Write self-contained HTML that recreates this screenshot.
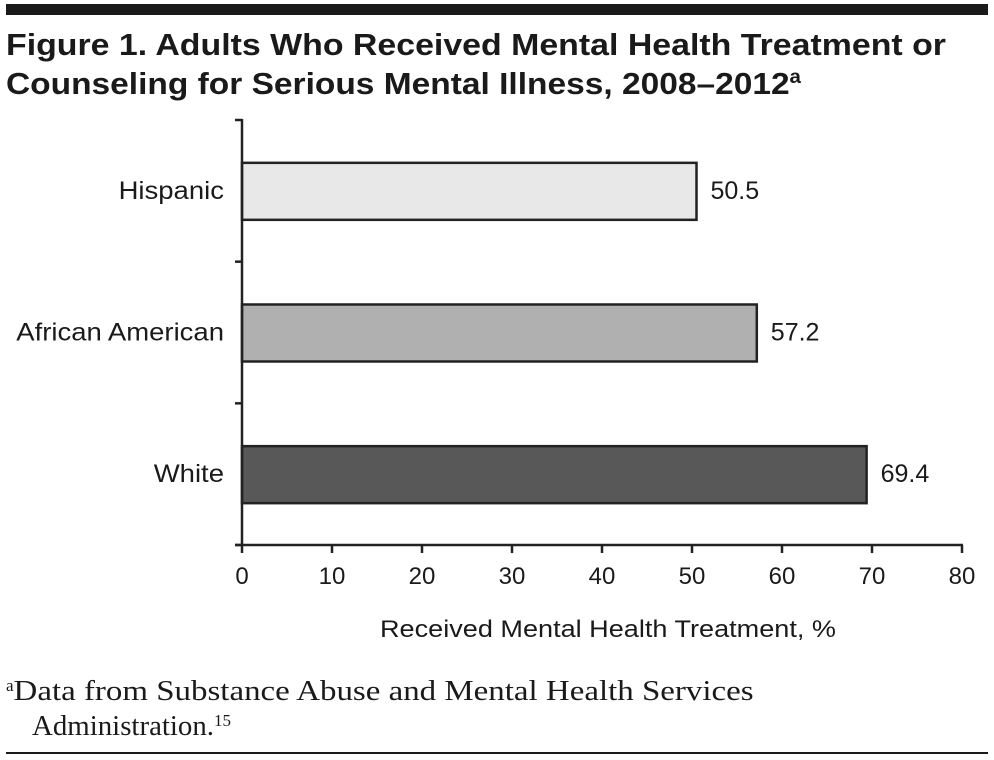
<!DOCTYPE html>
<html><head><meta charset="utf-8"><style>
body{margin:0;background:#fff;width:994px;height:760px;overflow:hidden}
svg{display:block}
</style></head><body>
<svg width="994" height="760" id="svg" font-family="'Liberation Sans', sans-serif">
<rect x="6" y="4" width="982" height="11" fill="#1a1a1a"/>
<text x="6" y="55" font-size="31" font-weight="bold" fill="#1a1a1a" textLength="940" lengthAdjust="spacingAndGlyphs">Figure 1. Adults Who Received Mental Health Treatment or</text>
<text x="6" y="94" font-size="31" font-weight="bold" fill="#1a1a1a" textLength="795" lengthAdjust="spacingAndGlyphs">Counseling for Serious Mental Illness, 2008–2012<tspan font-size="19" dy="-11">a</tspan></text>
<g id="chart"></g>
<text x="380" y="637" font-size="24" fill="#1a1a1a" textLength="456" lengthAdjust="spacingAndGlyphs">Received Mental Health Treatment, %</text>
<text x="6" y="700" font-family="'Liberation Serif', serif" font-size="28" fill="#1a1a1a"><tspan font-size="17" dy="-9">a</tspan><tspan dy="9" textLength="740" lengthAdjust="spacingAndGlyphs">Data from Substance Abuse and Mental Health Services</tspan></text>
<text x="32" y="735" font-family="'Liberation Serif', serif" font-size="28" fill="#1a1a1a"><tspan textLength="182" lengthAdjust="spacingAndGlyphs">Administration.</tspan><tspan font-size="17" dy="-9">15</tspan></text>
<rect x="6" y="752" width="982" height="2" fill="#1a1a1a"/>
</svg>
<script>
const categories = ["Hispanic", "African American", "White"];
const values = [50.5, 57.2, 69.4];
const labels = ["50.5", "57.2", "69.4"];
const fills = ["#e8e8e8", "#b0b0b0", "#585858"];
const xTicks = [0, 10, 20, 30, 40, 50, 60, 70, 80];

const NS = "http://www.w3.org/2000/svg";
const g = document.getElementById("chart");
const x0 = 242, x1 = 962, yTop = 120, yBot = 545;
const xMax = 80;
function xs(v){ return x0 + (v / xMax) * (x1 - x0); }
const band = (yBot - yTop) / categories.length;
function yc(i){ return yTop + band * (i + 0.5); }
function mk(tag, attrs){ const e = document.createElementNS(NS, tag); for (const k in attrs) e.setAttribute(k, attrs[k]); g.appendChild(e); return e; }

categories.forEach((c, i) => {
  const bh = 57, y = yc(i) - bh / 2 + 0.5;
  const r = mk("rect", {x: x0, y: y, width: xs(values[i]) - x0, height: bh, fill: fills[i], stroke: "#222", "stroke-width": 2.5});
  
  
  const t = mk("text", {x: 224, y: yc(i) + 8, "font-size": 25, "text-anchor": "end", fill: "#1a1a1a", "transform-origin": "224px 0px", transform: "scale(1.1,1)"});
  t.textContent = c;
  
  
  const v = mk("text", {x: xs(values[i]) + 14, y: yc(i) + 8, "font-size": 25, fill: "#1a1a1a"});
  v.textContent = labels[i];
  
  
});
for (let i = 0; i <= categories.length; i++) {
  const y = yTop + band * i;
  const tk = mk("line", {x1: 235, x2: x0, y1: y, y2: y, stroke: "#222", "stroke-width": 2.5});
  
  
}
const ya = mk("line", {x1: x0, x2: x0, y1: yTop - 1, y2: yBot + 1, stroke: "#222", "stroke-width": 2.5});


const xa = mk("line", {x1: x0 - 7, x2: x1 + 1, y1: yBot, y2: yBot, stroke: "#222", "stroke-width": 2.5});


xTicks.forEach(v => {
  const l = mk("line", {x1: xs(v), x2: xs(v), y1: yBot, y2: yBot + 8, stroke: "#222", "stroke-width": 2.5});
  
  
  const t = mk("text", {x: xs(v), y: yBot + 39, "font-size": 24, "text-anchor": "middle", fill: "#1a1a1a"});
  t.textContent = v;
  
  
});
</script>
</body></html>
